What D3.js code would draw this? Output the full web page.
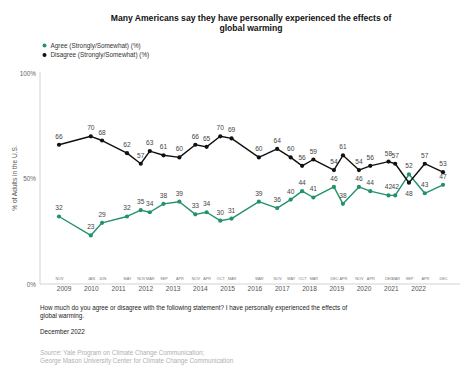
<!DOCTYPE html>
<html><head><meta charset="utf-8">
<script src="https://cdn.jsdelivr.net/npm/d3@7"></script>
<style>
html,body{margin:0;padding:0;background:#fff;}
svg{display:block;font-family:"Liberation Sans",Arial,sans-serif;}
</style></head>
<body>
<svg id="c" width="474" height="379"></svg>
<script>
const surveyDates = ["2008-11","2010-01","2010-06","2011-05","2011-11","2012-03","2012-09","2013-04","2013-11","2014-04","2014-10","2015-03","2016-03","2016-11","2017-05","2017-10","2018-03","2018-12","2019-04","2019-11","2020-04","2020-12","2021-03","2021-09","2022-04","2022-12"];
const monthLabels = ["NOV","JAN","JUN","MAY","NOV","MAR","SEP","APR","NOV","APR","OCT","MAR","MAR","NOV","MAY","OCT","MAR","DEC","APR","NOV","APR","DEC","MAR","SEP","APR","DEC"];
const agree =    [32,23,29,32,35,34,38,39,33,34,30,31,39,36,40,44,41,46,38,46,44,42,42,52,43,47];
const disagree = [66,70,68,62,57,63,61,60,66,65,70,69,60,64,60,56,59,54,61,54,56,58,57,48,57,53];
const yearLabels = ["2009","2010","2011","2012","2013","2014","2015","2016","2017","2018","2019","2020","2021","2022"];
const yTicks = [0,50,100];
const seriesNames = ["Agree (Strongly/Somewhat) (%)","Disagree (Strongly/Somewhat) (%)"];
const seriesColors = ["#22926b","#111111"];

const parse = d3.timeParse("%Y-%m");
const dates = surveyDates.map(parse);
const root = d3.select("#c");
const svg = root.append("g").attr("opacity",0.999);

const x = d3.scaleTime().domain([dates[0], dates[dates.length-1]]).range([59, 443]);
const y = d3.scaleLinear().domain([0,100]).range([284, 73]);

// title
svg.append("text").attr("x",251).attr("y",20.5).attr("text-anchor","middle")
  .attr("font-size",8.6).attr("font-weight","bold").attr("fill","#111")
  .text("Many Americans say they have personally experienced the effects of");
svg.append("text").attr("x",251).attr("y",30.8).attr("text-anchor","middle")
  .attr("font-size",8.6).attr("font-weight","bold").attr("fill","#111")
  .text("global warming");

// legend
seriesNames.forEach((n,i)=>{
  const ly = 45.5 + i*9.5;
  svg.append("circle").attr("cx",44.5).attr("cy",ly).attr("r",2).attr("fill",seriesColors[i]);
  svg.append("text").attr("x",50.5).attr("y",ly+2.3).attr("font-size",6.4).attr("fill","#333").text(n);
});

// axes lines
svg.append("line").attr("x1",40).attr("x2",40).attr("y1",72).attr("y2",284).attr("stroke","#d4d4d4").attr("stroke-width",1);
svg.append("line").attr("x1",40).attr("x2",460).attr("y1",284).attr("y2",284).attr("stroke","#d4d4d4").attr("stroke-width",1.2);

// y ticks
const yAxis = d3.axisLeft(y).tickValues(yTicks).tickFormat(d=>d+"%").tickSize(0).tickPadding(4);
const ya = svg.append("g").attr("transform","translate(40,0)").call(yAxis);
ya.select(".domain").remove();
ya.selectAll("text").attr("font-size",6.4).attr("fill","#666").attr("font-family","Liberation Sans, Arial, sans-serif");

svg.append("text").attr("transform","translate(17,178) rotate(-90)").attr("text-anchor","middle")
  .attr("font-size",6.6).attr("fill","#555").text("% of Adults in the U.S.");

// month labels
const xMonth = d3.axisBottom(x).tickValues(dates).tickFormat((d,i)=>monthLabels[i]).tickSize(0).tickPadding(0);
const xm = svg.append("g").attr("transform","translate(0,277)").call(xMonth);
xm.select(".domain").remove();
xm.selectAll("text").attr("font-size",3.8).attr("fill","#777").attr("font-family","Liberation Sans, Arial, sans-serif");

// year labels
const yearDates = yearLabels.map(s=>d3.timeParse("%Y")(s));
const xYear = d3.axisBottom(x).tickValues(yearDates).tickFormat(d3.timeFormat("%Y")).tickSize(0).tickPadding(0);
const xy = svg.append("g").attr("transform","translate(0,286.5)").call(xYear);
xy.select(".domain").remove();
xy.selectAll("text").attr("font-size",6.6).attr("fill","#555").attr("font-family","Liberation Sans, Arial, sans-serif");

// series
const series = [agree, disagree];
const line = d3.line().x((d,i)=>x(dates[i])).y(d=>y(d));
series.forEach((vals,si)=>{
  svg.append("path").datum(vals).attr("d",line).attr("fill","none")
    .attr("stroke",seriesColors[si]).attr("stroke-width",1.4).attr("stroke-linejoin","round");
  svg.selectAll(null).data(vals).enter().append("circle")
    .attr("cx",(d,i)=>x(dates[i])).attr("cy",d=>y(d)).attr("r",2.1).attr("fill",seriesColors[si]);
  const other = series[1-si];
  svg.selectAll(null).data(vals).enter().append("text")
    .attr("x",(d,i)=>x(dates[i])).attr("text-anchor","middle")
    .attr("y",(d,i)=>{
      const below = si===1 ? d < other[i] : false;
      return below ? y(d)+13.5 : y(d)-6;
    })
    .attr("font-size",6.6).attr("fill","#444").text(d=>d);
});

// footer
const foot = [
  ["How much do you agree or disagree with the following statement? I have personally experienced the effects of", 309.5],
  ["global warming.", 317.5],
  ["December 2022", 333.5]
];
foot.forEach(f=>svg.append("text").attr("x",40).attr("y",f[1]).attr("font-size",6.3).attr("fill","#222").text(f[0]));
const s1 = svg.append("text").attr("x",40).attr("y",355).attr("font-size",6.3).attr("fill","#b0b0b0");
s1.append("tspan").attr("font-style","italic").text("Source:");
s1.append("tspan").text(" Yale Program on Climate Change Communication;");
svg.append("text").attr("x",40).attr("y",363).attr("font-size",6.3).attr("fill","#b0b0b0")
  .text("George Mason University Center for Climate Change Communication");
</script>
</body></html>
